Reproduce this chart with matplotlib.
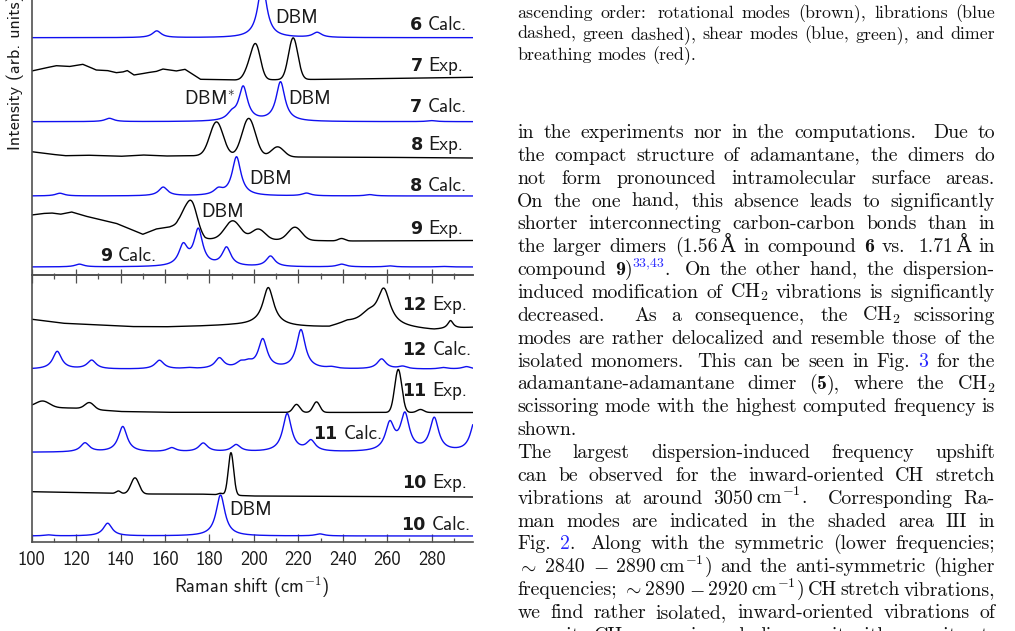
import re
import numpy as np
import matplotlib
matplotlib.use("Agg")
import matplotlib.pyplot as plt

plt.rcParams['mathtext.fontset'] = 'cm'
plt.rcParams['axes.unicode_minus'] = False

# ---------------------------------------------------------------- data
x_limits = [100, 298.5]
xtick_major = [100, 120, 140, 160, 180, 200, 220, 240, 260, 280]
xtick_minor = [110, 130, 150, 170, 190, 210, 230, 250, 270, 290]

# calculated spectra: peak positions (cm-1) and heights (arb.)
calc6_pos = [156.3, 203.8, 228.5]
calc6_amp = [6.7, 54, 5]
calc7_pos = [135, 190, 195.2, 212, 280]
calc7_amp = [3.3, 6, 34, 39.3, 1]
calc8_pos = [112.7, 159.2, 184, 192.2, 223.7, 252.2]
calc8_amp = [2.7, 8.7, 5.7, 38.8, 2.7, 1.3]
calc9_pos = [121.5, 168.2, 175, 187.7, 207.5, 239.5, 261.2, 285.2]
calc9_amp = [2.7, 20, 36, 18.5, 10.5, 2.7, 1, 0.5]
calc12_pos = [111.5, 127, 157.5, 170.5, 184.5, 194, 197.5, 204, 221.2, 235, 257.5, 267, 285.2, 295.7]
calc12_amp = [17.7, 8.7, 8.7, 1, 10.5, 5, 4.5, 29, 39, 1.5, 10, 2.5, 1.5, 2.5]
calc11_pos = [124, 141, 163, 177.2, 192, 215, 225.7, 261.2, 268, 281.2, 299.5]
calc11_amp = [9, 25.5, 4, 8.7, 7, 38, 10.5, 27, 36, 33, 31]
calc10_pos = [107.5, 134.2, 185, 229.7]
calc10_amp = [1, 12.7, 41, 2]

# experimental spectra: peaks (position, height, width) + baseline points
exp7_pos = [197.5, 200.9, 217.7]
exp7_amp = [9, 34, 41.7]
exp7_wid = [2.0, 2.1, 2.1]
exp7_bx = [100, 104, 111, 117, 123, 126, 129, 134, 138, 141, 143, 146, 149, 152, 156, 159,
           162, 165, 169, 176, 192, 234, 250, 270, 298.5]
exp7_by = [9, 11, 14.3, 13.5, 15.7, 13, 10, 9.5, 7.3, 8, 9.5, 5, 6, 7.3, 8.5, 11,
           10, 9, 10.7, 0.7, 0, 0.7, 1.2, 1.8, 2.7]

exp8_pos = [183.2, 197.7, 210.7]
exp8_amp = [34, 38, 10]
exp8_wid = [3.0, 3.0, 2.8]
exp8_bx = [100, 108, 115, 125, 140, 150, 160, 176, 216, 250, 298.5]
exp8_by = [6.3, 4, 2.3, 2.8, 1.7, 3, 2, 2.3, 1, 0.8, 0]

exp9_pos = [168, 171.8, 190.5, 202, 218.5, 239.5]
exp9_amp = [5, 30.5, 18.5, 10.5, 13, 2.5]
exp9_wid = [1.5, 2.6, 3.5, 3.0, 3.0, 1.5]
exp9_bx = [100, 105, 109, 113, 118, 124, 138, 150, 156, 162, 166, 178, 200, 240, 298.5]
exp9_by = [26, 27.5, 28, 26.8, 29, 25, 17.7, 6.7, 12, 14, 17, 2, 1.5, 0, 0.5]

exp12_pos = [206.5, 251.5, 258.5, 288.5]
exp12_amp = [38, 10, 36, 8]
exp12_wid = [3.0, 4.5, 3.5, 1.5]
exp12_bx = [100, 114, 145, 160, 175, 190, 200, 219, 234, 242, 250, 272, 281, 298.5]
exp12_by = [7.7, 3.7, 0.3, 0, 0.7, 1.6, 1.8, 0, -0.9, 3.5, 1, -2, -3.4, -0.7]

exp11_pos = [105, 126, 219.2, 228.2, 265, 275]
exp11_amp = [6, 6.5, 8, 10.5, 43, 3]
exp11_wid = [3, 2, 1.5, 1.5, 1.6, 1.5]
exp11_bx = [100, 112, 122, 131, 140, 160, 298.5]
exp11_by = [6, 4.8, 4.2, 2.5, 1, 0.2, 0]

exp10_pos = [139, 146.5, 185, 189.7]
exp10_amp = [2.5, 16, 1.5, 42.5]
exp10_wid = [1, 1.8, 1, 1.2]
exp10_bx = [100, 130, 150, 175, 200, 298.5]
exp10_by = [5.3, 4, 3, 3, 1, 0]

# ---------------------------------------------------------------- figure
W, H = 1015, 631
fig = plt.figure(figsize=(W / 100, H / 100), dpi=100)
renderer = fig.canvas.get_renderer()


def fx(px):
    return px / W


def fy(py):
    return 1 - py / H


SANS = ['cmss10', 'DejaVu Sans']
SERIF = ['cmr10', 'DejaVu Serif']
BLUE = '#1010f0'
LINK = '#2a2aff'
INK = '#1a1a1a'
SPINE = '#505050'

AX_L, AX_R = 31.67, 472.7
TOP_B, TOP_T = 275.0, -40.0
BOT_B = 541.5

ax1 = fig.add_axes([fx(AX_L), fy(TOP_B), (AX_R - AX_L) / W, (TOP_B - TOP_T) / H])
ax2 = fig.add_axes([fx(AX_L), fy(BOT_B), (AX_R - AX_L) / W, (BOT_B - TOP_B) / H])
ax1.set_ylim(0, TOP_B - TOP_T)
ax2.set_ylim(0, BOT_B - TOP_B)

xs = np.linspace(x_limits[0], x_limits[1], 2500)
GAMMA = 2.4


def lorentz(pos, amp, wid):
    y = np.zeros_like(xs)
    for p, a, g in zip(pos, amp, wid):
        y += a / (1 + ((xs - p) / g) ** 2)
    return y


def gauss(pos, amp, wid):
    y = np.zeros_like(xs)
    for p, a, s in zip(pos, amp, wid):
        y += a * np.exp(-0.5 * ((xs - p) / s) ** 2)
    return y


def calc(pos, amp):
    return lorentz(pos, amp, [GAMMA] * len(pos))


top_spectra = [
    (calc(calc6_pos, calc6_amp), 237.3, BLUE),
    (np.interp(xs, exp7_bx, exp7_by) + gauss(exp7_pos, exp7_amp, exp7_wid), 195.0, 'black'),
    (calc(calc7_pos, calc7_amp), 153.3, BLUE),
    (np.interp(xs, exp8_bx, exp8_by) + gauss(exp8_pos, exp8_amp, exp8_wid), 117.0, 'black'),
    (calc(calc8_pos, calc8_amp), 79.0, BLUE),
    (np.interp(xs, exp9_bx, exp9_by) + gauss(exp9_pos, exp9_amp, exp9_wid), 34.0, 'black'),
    (calc(calc9_pos, calc9_amp), 8.0, BLUE),
]
bot_spectra = [
    (np.interp(xs, exp12_bx, exp12_by) + lorentz(exp12_pos, exp12_amp, exp12_wid), 214.5, 'black'),
    (calc(calc12_pos, calc12_amp), 172.2, BLUE),
    (np.interp(xs, exp11_bx, exp11_by) + gauss(exp11_pos, exp11_amp, exp11_wid), 129.0, 'black'),
    (calc(calc11_pos, calc11_amp), 89.2, BLUE),
    (np.interp(xs, exp10_bx, exp10_by) + gauss(exp10_pos, exp10_amp, exp10_wid), 44.5, 'black'),
    (calc(calc10_pos, calc10_amp), 5.5, BLUE),
]
for ax, specs in ((ax1, top_spectra), (ax2, bot_spectra)):
    for y, off, col in specs:
        ax.plot(xs, y + off, color=col, lw=1.0)

for ax in (ax1, ax2):
    ax.set_xlim(*x_limits)
    ax.set_xticks(xtick_major)
    ax.set_xticks(xtick_minor, minor=True)
    ax.set_yticks([])
    ax.spines['right'].set_visible(False)
    for sp in ax.spines.values():
        sp.set_color(SPINE)
        sp.set_linewidth(1.2)
    ax.patch.set_alpha(0)
ax1.spines['top'].set_visible(False)
ax1.tick_params(axis='x', which='both', direction='in', bottom=True, top=False,
                labelbottom=False, color=SPINE, width=0.9)
ax1.tick_params(axis='x', which='major', length=4.2)
ax1.tick_params(axis='x', which='minor', length=1.8)
ax2.tick_params(axis='x', which='both', direction='in', bottom=True, top=True,
                labelbottom=True, color=SPINE, width=0.9, pad=6.5,
                labelsize=13.3, labelcolor=INK)
ax2.tick_params(axis='x', which='major', length=5.5)
ax2.tick_params(axis='x', which='minor', length=2.8)
for lab in ax2.get_xticklabels():
    lab.set_family(SANS)

# axis titles
fig.text(fx(15), fy(72), 'Intensity (arb. units)', rotation=90, ha='center', va='center',
         family=SANS, fontsize=13, color=INK)
fig.text(fx(252), fy(586.7), r'Raman shift ($\mathsf{cm}^{-\mathsf{1}}$)', ha='center', va='center',
         family=SANS, fontsize=13.3, color=INK, math_fontfamily='cm')

# spectrum names
FS_L = 13.6


def spec_label(num, word, x, yc, align='right'):
    base = yc + 6.3
    t2 = fig.text(fx(x), fy(base), word, family=SANS, fontsize=FS_L, color=INK,
                  ha=align, va='baseline')
    t1 = fig.text(fx(x), fy(base), num, family='DejaVu Sans', fontweight='bold',
                  fontsize=FS_L - 1.0, color=INK, ha=align, va='baseline')
    w1 = t1.get_window_extent(renderer).width
    w2 = t2.get_window_extent(renderer).width
    gap = 6
    if align == 'right':
        t1.set_position((fx(x - w2 - gap), fy(base)))
    else:
        t2.set_position((fx(x + w1 + gap), fy(base)))


spec_labels = [
    ('6', 'Calc.', 467, 24, 'right'), ('7', 'Exp.', 463.5, 65, 'right'),
    ('7', 'Calc.', 467, 106, 'right'), ('8', 'Exp.', 463.5, 143.3, 'right'),
    ('8', 'Calc.', 467, 185, 'right'), ('9', 'Exp.', 463.5, 227.7, 'right'),
    ('9', 'Calc.', 100, 254.5, 'left'),
    ('12', 'Exp.', 467, 303.3, 'right'), ('12', 'Calc.', 471.5, 349, 'right'),
    ('11', 'Exp.', 467, 390, 'right'), ('11', 'Calc.', 313.3, 432.3, 'left'),
    ('10', 'Exp.', 467, 481.7, 'right'), ('10', 'Calc.', 470.5, 524, 'right'),
]
for n, w, x, y, a in spec_labels:
    spec_label(n, w, x, y, a)

dbm_labels = [
    ('DBM', 275, 16.7, 'left'), (r'DBM$^{*}$', 235, 97.3, 'right'),
    ('DBM', 288.3, 97.3, 'left'), ('DBM', 249, 177.7, 'left'),
    ('DBM', 201, 210.7, 'left'), ('DBM', 229.3, 508.3, 'left'),
]
for s, x, y, a in dbm_labels:
    fig.text(fx(x), fy(y + 6.3), s, family=SANS, fontsize=FS_L, color=INK, ha=a,
             va='baseline', math_fontfamily='cm')

# ---------------------------------------------------------------- text column
caption_lines = [
    "ascending order: rotational modes (brown), librations (blue",
    "dashed, green dashed), shear modes (blue, green), and dimer",
    "breathing modes (red).",
]
body_lines = [
    "in the experiments nor in the computations. Due to",
    "the compact structure of adamantane, the dimers do",
    "not form pronounced intramolecular surface areas.",
    "On the one hand, this absence leads to significantly",
    "shorter interconnecting carbon-carbon bonds than in",
    "the larger dimers (1.56~Å in compound *6* vs. 1.71~Å in",
    "compound *9*)@{33,43}. On the other hand, the dispersion-",
    "induced modification of CH$_2$ vibrations is significantly",
    "decreased. As a consequence, the CH$_2$ scissoring",
    "modes are rather delocalized and resemble those of the",
    "isolated monomers. This can be seen in Fig. [3] for the",
    "adamantane-adamantane dimer (*5*), where the CH$_2$",
    "scissoring mode with the highest computed frequency is",
    "shown.",
    "The largest dispersion-induced frequency upshift",
    "can be observed for the inward-oriented CH stretch",
    "vibrations at around 3050~cm$^{-1}$. Corresponding Ra-",
    "man modes are indicated in the shaded area III in",
    "Fig. [2]. Along with the symmetric (lower frequencies;",
    "$\\sim$ 2840 $-$ 2890~cm$^{-1}$) and the anti-symmetric (higher",
    "frequencies; $\\sim$ 2890 $-$ 2920~cm$^{-1}$) CH stretch vibrations,",
    "we find rather isolated, inward-oriented vibrations of",
    "opposite CH groups in each dimer unit with opposite at-",
]
ragged = {("c", 2), ("b", 13)}

TOK = re.compile(r'(\*[^*]+\*|\[[^\]]+\]|@\{[^}]+\}|~)')


def parse(word):
    out = []
    for tok in TOK.split(word):
        if not tok:
            continue
        if tok == '~':
            out.append(('', 'thin'))
        elif tok.startswith('*'):
            out.append((tok[1:-1], 'b'))
        elif tok.startswith('['):
            out.append((tok[1:-1], 'l'))
        elif tok.startswith('@'):
            out.append((tok[2:-1], 's'))
        else:
            out.append((tok, 'r'))
    return out


def make_piece(s, style, fs):
    kw = dict(fontsize=fs, family=SERIF, color='#111111', math_fontfamily='cm')
    if style == 'b':
        kw['family'] = ['cmb10', 'DejaVu Serif']
    elif style == 'l':
        kw['color'] = LINK
    elif style == 's':
        kw['color'] = LINK
        kw['fontsize'] = fs * 0.7
    t = fig.text(0, 0, s, ha='left', va='baseline', **kw)
    return t, t.get_window_extent(renderer).width


def space_factor(word):
    if word == 'Fig.':
        return 1000
    c = word.rstrip('*]}')[-1:]
    return {'.': 3000, ':': 2000, ';': 1500, ',': 1250}.get(c, 1000)


def set_line(text, x0, x1, base, fs, justify=True):
    em = fs * 100 / 72
    words = text.split(' ')
    items, widths = [], []
    for wd in words:
        parts = []
        for s, st in parse(wd):
            if st == 'thin':
                parts.append((None, em / 6, 0))
                continue
            t, w = make_piece(s, st, fs)
            parts.append((t, w, 0.42 * em if st == 's' else 0))
        items.append(parts)
        widths.append(sum(p[1] for p in parts))
    nat, stre, shr = [], [], []
    for wd in words[:-1]:
        sf = space_factor(wd)
        nat.append(em * (0.3333 + (0.1111 if sf >= 2000 else 0)))
        stre.append(em * 0.1667 * sf / 1000)
        shr.append(em * 0.1111 * 1000 / sf)
    gaps = list(nat)
    if justify and len(words) > 1:
        diff = (x1 - x0) - sum(widths) - sum(nat)
        if diff >= 0:
            r = diff / sum(stre)
            gaps = [n + r * s for n, s in zip(nat, stre)]
        else:
            r = max(diff / sum(shr), -1.6)
            gaps = [n + r * s for n, s in zip(nat, shr)]
    x = x0
    for i, parts in enumerate(items):
        for t, w, dy in parts:
            if t is not None:
                t.set_position((fx(x), fy(base - dy)))
            x += w
        if i < len(gaps):
            x += gaps[i]


TX0, TX1 = 517.3, 995.0
FS_CAP = 12.9
FS_BODY = 14.25
for i, line in enumerate(caption_lines):
    set_line(line, TX0, TX1, 18.0 + 21.0 * i, FS_CAP, ("c", i) not in ragged)
for i, line in enumerate(body_lines):
    set_line(line, TX0, TX1, 138.0 + 22.86 * i, FS_BODY, ("b", i) not in ragged)

fig.savefig('out.png', dpi=100)
